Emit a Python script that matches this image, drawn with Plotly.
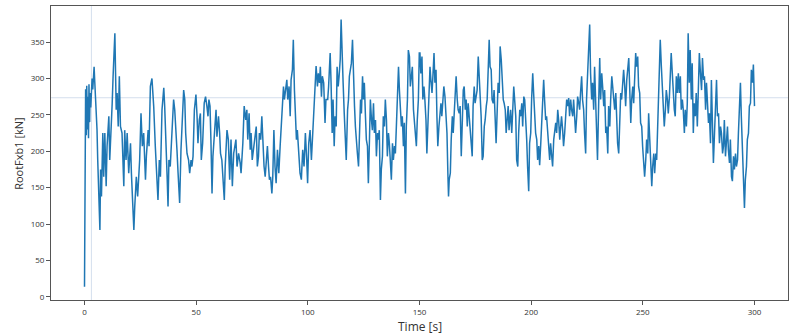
import plotly.graph_objects as go

# ---- data (time [s], RootFxb1 [kN]) ----
t_a = [0.0,0.3,0.5,0.8,1.0,1.3,1.5,1.8,2.0,2.3,2.5,2.8,3.1,3.4,3.7,4.0,4.3,4.6,4.9,5.3,5.6,5.9,6.2,6.5,6.9,7.2,7.6,8.2,8.6,9.1,9.7,10.1,10.9,11.3,11.9,12.4,12.8,13.6,14.2,14.6,15.1,15.6,16.1,16.8,17.6,18.0,18.6,19.1,19.8,20.6,21.0,21.6,22.1,22.5,23.2,23.8,24.7,25.3,25.9,26.5,27.3,27.7,28.5,28.9]
f_a = [14,250,285,222,290,230,275,218,292,240,280,260,275,300,285,310,316,295,275,255,230,190,150,110,92,175,138,225,165,225,152,207,248,188,225,266,303,362,257,280,234,303,234,225,152,229,188,225,170,211,170,133,92,124,165,138,188,252,207,225,161,193,229,207]

t_b = [29.5,30.2,31.0,31.7,32.5,32.9,33.5,34.0,34.7,35.2,35.5,35.9,36.2,36.7,37.0,37.4,37.8,38.4,38.9,39.5,39.9,40.4,40.8,41.4,41.9,42.6,43.2,44.0,44.4,44.9,45.3,45.9,46.6,47.1,47.7,48.1,48.6,49.2,49.9,50.4,50.8,51.4,51.9,52.3,52.9,53.6,54.2,54.8,55.3,55.7,56.2,56.6,57.1,57.5,58.1,58.9,59.3,60.0,60.5,60.9,61.5,62.0,62.6,63.0,63.8,64.4,65.0,65.6,66.2,66.8,67.4,67.8,68.3,69.0]
f_b = [289,300,261,207,147,133,188,165,257,271,287,262,225,188,165,124,188,179,211,248,271,257,225,202,170,129,202,257,284,271,225,197,188,170,188,179,193,257,278,248,211,243,252,188,211,266,275,262,248,271,262,216,142,193,229,257,220,248,225,197,188,165,133,179,229,216,161,216,152,197,211,216,179,197]

t_c = [69.7,70.1,70.9,71.5,72.2,72.7,73.1,73.7,74.2,74.6,75.1,75.7,76.3,76.9,77.4,77.9,78.3,78.9,79.4,79.8,80.4,80.9,81.3,81.9,82.4,82.8,83.3,83.9,84.3,84.8,85.3,85.8,86.4,87.0,87.6,88.2,88.6,89.1,89.5,90.0,90.6,91.0,91.6,92.1,92.5,93.1,93.5,94.0,94.4,94.9,95.3,95.9,96.5,97.1,97.7,98.3,98.9,99.5,99.9,100.4,101.0,101.6,102.2,102.8,103.2,103.7,104.3,104.7,105.2,105.6,106.1,106.5,107.1,107.7,108.1,108.9,109.3]
f_c = [184,170,211,262,243,257,216,252,202,225,188,202,216,234,179,193,225,216,248,216,179,165,188,207,179,161,165,142,165,229,179,156,202,170,207,248,275,289,271,284,298,271,289,248,298,312,353,284,248,216,229,197,170,161,202,179,225,188,156,211,229,188,225,271,289,317,289,307,294,316,275,303,294,239,271,271,289]

t_d = [110.0,110.4,110.9,111.3,111.8,112.2,112.7,113.1,113.6,114.0,114.5,114.9,115.4,115.8,116.3,116.7,117.2,117.8,118.2,118.6,119.1,119.5,120.0,120.4,120.9,121.3,121.8,122.2,122.7,123.1,123.6,124.0,124.5,124.9,125.3,125.8,126.2,126.7,127.1,127.6,128.0,128.5,128.9,129.4,129.8,130.3,130.7,131.2,131.6,132.0,132.5,132.9,133.4,133.8,134.3,134.7,135.2,135.6,136.1,136.5,137.0,137.4,137.9,138.3,138.8,139.2,139.7,140.1,140.6,141.0,141.4,141.9,142.3,142.8,143.2,143.7,144.1,144.6,145.0,145.5,145.9,146.4,146.8,147.3,147.7,148.2,148.6,149.0,149.5,149.9]
f_d = [335,294,225,271,207,248,234,316,289,303,326,381,312,294,252,216,188,257,271,303,316,321,353,303,262,234,207,197,179,216,271,252,303,271,294,248,216,207,156,216,271,243,229,266,225,243,193,225,216,229,133,175,193,248,234,271,243,193,225,211,179,161,211,188,207,197,239,271,316,284,257,234,248,207,239,142,234,271,339,330,289,303,316,257,243,220,207,243,271,335]

t_e = [150.2,150.6,151.1,151.5,152.0,152.4,152.9,153.3,153.8,154.2,154.7,155.1,155.6,156.0,156.5,156.9,157.4,157.8,158.2,158.7,159.1,159.6,160.0,160.5,160.9,161.4,161.8,162.3,162.7,163.0,163.3,163.8,164.2,164.7,165.1,165.6,166.0,166.4,166.9,167.3,167.8,168.2,168.7,169.1,169.6,170.0,170.5,170.9,171.4,171.8,172.3,172.7,173.2,173.6,174.0,174.5,174.9,175.4,175.8,176.3,176.7,177.2,177.6,178.1,178.5,179.0,179.4,179.9,180.3,180.8,181.2,181.6,182.1,182.5,183.0,183.4,183.9,184.3,184.8,185.2,185.7,186.1,186.6,187.0,187.5,187.9,188.4,188.8,189.3,189.7,190.1]
f_e = [335,307,330,271,289,271,243,197,234,280,316,298,280,303,335,294,312,248,207,234,252,266,248,275,289,275,257,225,170,138,161,170,216,248,225,262,280,303,271,257,252,262,193,248,284,289,257,271,234,266,243,225,211,193,262,289,266,275,284,330,307,271,248,188,193,234,243,262,271,316,353,316,312,271,266,284,248,211,257,294,280,344,326,294,271,266,257,225,243,262,229]

t_f = [190.8,191.3,191.7,192.2,192.6,193.1,193.5,194.0,194.4,194.9,195.3,195.8,196.2,196.7,197.1,197.6,198.0,198.4,198.9,199.3,199.8,200.2,200.7,201.1,201.6,202.0,202.5,202.9,203.4,203.8,204.3,204.7,205.2,205.6,206.0,206.5,206.9,207.4,207.8,208.3,208.7,209.2,209.6,210.1,210.5,211.0,211.4,211.9,212.3,212.8,213.2,213.6,214.1,214.5,215.0,215.4,215.9,216.3,216.8,217.2,217.7,218.1,218.6,219.0,219.5,219.9,220.4,220.8,221.3,221.7,222.1,222.6,223.0,223.5,223.9,224.4,224.8,225.3,225.7,226.2,226.6,227.1,227.5,228.0,228.4,228.8,229.3,229.7,230.2]
f_f = [257,225,252,289,271,248,188,179,225,257,248,266,234,275,271,243,216,179,145,211,225,271,307,280,248,225,216,188,207,181,211,239,271,298,271,243,248,225,207,188,211,184,179,216,229,239,225,257,243,216,234,248,229,207,225,257,271,262,273,248,271,257,248,271,234,225,248,275,266,257,280,303,271,257,225,197,271,316,351,374,307,271,294,257,316,280,225,188,262]

t_g = [230.7,231.1,231.6,232.0,232.5,232.9,233.4,233.8,234.3,234.7,235.2,235.6,236.1,236.5,237.0,237.4,237.9,238.3,238.7,239.2,239.6,240.1,240.5,241.0,241.4,241.9,242.3,242.8,243.2,243.7,244.1,244.6,245.0,245.5,245.9,246.4,246.8,247.2,247.7,248.1,248.6,249.0,249.5,249.9,250.4,250.8,251.3,251.7,252.2,252.6,253.1,253.5,254.0,254.4,254.9,255.3,255.8,256.2,256.7,257.1,257.6,257.8,258.3,258.7,259.2,259.6,260.1,260.5,261.0,261.4,261.9,262.3,262.7,263.2,263.6,264.1,264.5,265.0,265.4,265.9,266.3,266.8,267.2,267.7,268.1,268.6,269.0,269.5,269.9,270.3,270.8,271.2,271.7,272.1,272.6,273.0,273.5,273.9,274.4,274.8,275.3]
f_g = [328,271,307,289,262,284,225,234,197,262,234,271,303,289,266,257,280,225,211,197,229,280,271,294,312,289,262,298,316,328,289,239,271,289,266,307,335,316,330,289,280,239,234,207,179,165,188,216,197,252,216,188,152,179,197,170,197,188,234,284,326,353,316,294,271,234,257,284,271,252,275,307,335,307,280,257,248,303,280,307,280,303,257,271,257,225,257,234,266,362,294,339,271,321,225,266,248,280,234,271,335]

t_h = [275.8,276.3,276.7,277.2,277.6,278.1,278.5,279.0,279.4,279.8,280.3,280.7,281.2,281.6,282.1,282.5,283.0,283.4,283.9,284.3,284.8,285.2,285.7,286.1,286.5,287.0,287.4,287.9,288.3,288.8,289.2,289.7,290.1,290.6,291.0,291.5,291.9,292.4,292.8,293.3,293.7,294.1,294.6,295.0,295.5,295.9,296.4,296.8,297.3,297.7,298.2,298.6,299.1,299.5,300.0]
f_h = [307,284,328,298,303,257,294,271,239,252,211,298,234,184,225,275,298,248,252,211,234,225,197,207,243,193,216,234,202,184,216,165,159,193,175,197,179,188,225,280,294,248,197,147,122,161,179,216,225,262,266,312,294,319,262]

cursor_time = 3.1      # vertical cursor line [s]
cursor_value = 273.5   # horizontal cursor line [kN]

x_ticks = [0, 50, 100, 150, 200, 250, 300]
y_ticks = [0, 50, 100, 150, 200, 250, 300, 350]
x_title = "Time [s]"
y_title = "RootFxb1 [kN]"

# ---- assemble ----
time_s = []
force = []
for ts, fs in [(t_a, f_a), (t_b, f_b), (t_c, f_c), (t_d, f_d),
               (t_e, f_e), (t_f, f_f), (t_g, f_g), (t_h, f_h)]:
    n = min(len(ts), len(fs))
    time_s += ts[:n]
    force += fs[:n]

fig = go.Figure()
fig.add_trace(go.Scatter(x=time_s, y=force, mode="lines",
                         line=dict(color="#1f77b4", width=1.5),
                         showlegend=False))

line_col = "rgba(176,196,222,0.55)"
fig.add_shape(type="line", xref="x", yref="paper", x0=cursor_time, x1=cursor_time,
              y0=0, y1=1, line=dict(color=line_col, width=1), layer="below")
fig.add_shape(type="line", xref="paper", yref="y", x0=0, x1=1,
              y0=cursor_value, y1=cursor_value, line=dict(color=line_col, width=1), layer="below")

axis_common = dict(showgrid=False, zeroline=False, showline=True, mirror=True,
                   linecolor="#555555", linewidth=1, ticks="outside", ticklen=4,
                   tickcolor="#555555", tickfont=dict(size=8, color="#333333"),
                   automargin=False)

fig.update_layout(
    width=800, height=336,
    margin=dict(l=51, r=12, t=6, b=36),
    paper_bgcolor="white", plot_bgcolor="white",
    font=dict(family="Open Sans, DejaVu Sans, sans-serif", color="#333333"),
    xaxis=dict(range=[-15, 315], tickvals=x_ticks, **axis_common),
    yaxis=dict(range=[-4.3, 399.5], tickvals=y_ticks, **axis_common),
    annotations=[
        dict(text=x_title, xref="paper", yref="paper", x=0.5, y=-0.054,
             xanchor="center", yanchor="top", showarrow=False,
             font=dict(size=12, color="#333333")),
        dict(text=y_title, xref="paper", yref="paper", x=-0.045, y=0.5,
             xanchor="center", yanchor="middle", textangle=-90, showarrow=False,
             font=dict(size=11, color="#333333")),
    ],
)

fig.write_html("out.html", config={"displayModeBar": False},
               post_script="document.body.style.margin='0';document.body.style.overflow='hidden';")
